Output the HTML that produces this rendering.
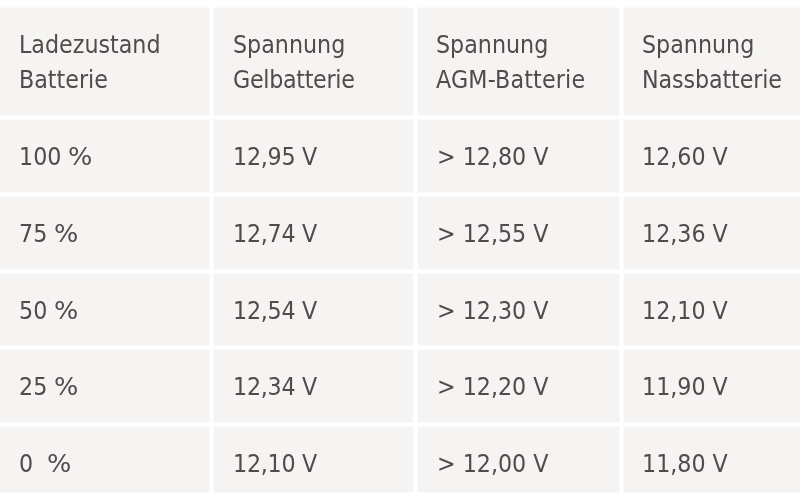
<!DOCTYPE html>
<html><head><meta charset="utf-8">
<style>
html,body{margin:0;padding:0;background:#fff;width:800px;height:496px;overflow:hidden}
body{position:relative;font-family:"DejaVu Sans Condensed","DejaVu Sans",sans-serif;font-stretch:condensed;font-size:24.7px;color:#4f4c4b}
.tbl{position:absolute;left:0;top:7px;width:800px;height:486px;background:#f5f4f3}
.edge{position:absolute;left:0;width:800px;height:1px;background:#fafaf9}
.v,.h{position:absolute}
.v{top:0;width:5px;height:496px;background:linear-gradient(to right,rgba(255,255,255,.6) 0,rgba(255,255,255,.6) 1px,#fff 1px,#fff 4px,rgba(255,255,255,.6) 4px)}
.h{left:0;width:800px;height:5px;background:linear-gradient(to bottom,rgba(255,255,255,.6) 0,rgba(255,255,255,.6) 1px,#fff 1px,#fff 4px,rgba(255,255,255,.6) 4px)}
.t{position:absolute;white-space:pre;line-height:35px;will-change:transform}
.pc{display:inline-block;transform:scaleX(1.15);transform-origin:0 0}
</style></head><body>
<div class="tbl"></div>
<div class="edge" style="top:7px"></div>
<div class="edge" style="top:492px"></div>
<div class="v" style="left:209px"></div>
<div class="v" style="left:413px"></div>
<div class="v" style="left:619px"></div>
<div class="h" style="top:115px"></div>
<div class="h" style="top:192px"></div>
<div class="h" style="top:269px"></div>
<div class="h" style="top:345px"></div>
<div class="h" style="top:422px"></div>

<div class="t" style="left:19px;top:27px">Ladezustand<br>Batterie</div>
<div class="t" style="left:233px;top:27px">Spannung<br><span style="letter-spacing:-0.3px">Gelbatterie</span></div>
<div class="t" style="left:436px;top:27px">Spannung<br><span style="letter-spacing:0.18px">AGM-Batterie</span></div>
<div class="t" style="left:642px;top:27px">Spannung<br><span style="letter-spacing:-0.1px">Nassbatterie</span></div>

<div class="t" style="left:19px;top:139px">100 <span class="pc">%</span></div>
<div class="t" style="left:233px;top:139px;letter-spacing:-0.25px">12,95 V</div>
<div class="t" style="left:437px;top:139px">&gt; 12,80 V</div>
<div class="t" style="left:642px;top:139px">12,60 V</div>

<div class="t" style="left:19px;top:216px">75 <span class="pc">%</span></div>
<div class="t" style="left:233px;top:216px;letter-spacing:-0.25px">12,74 V</div>
<div class="t" style="left:437px;top:216px">&gt; 12,55 V</div>
<div class="t" style="left:642px;top:216px">12,36 V</div>

<div class="t" style="left:19px;top:292.5px">50 <span class="pc">%</span></div>
<div class="t" style="left:233px;top:292.5px;letter-spacing:-0.25px">12,54 V</div>
<div class="t" style="left:437px;top:292.5px">&gt; 12,30 V</div>
<div class="t" style="left:642px;top:292.5px">12,10 V</div>

<div class="t" style="left:19px;top:369px">25 <span class="pc">%</span></div>
<div class="t" style="left:233px;top:369px;letter-spacing:-0.25px">12,34 V</div>
<div class="t" style="left:437px;top:369px">&gt; 12,20 V</div>
<div class="t" style="left:642px;top:369px">11,90 V</div>

<div class="t" style="left:19px;top:446px">0&nbsp; <span class="pc">%</span></div>
<div class="t" style="left:233px;top:446px;letter-spacing:-0.25px">12,10 V</div>
<div class="t" style="left:437px;top:446px">&gt; 12,00 V</div>
<div class="t" style="left:642px;top:446px">11,80 V</div>

</body></html>
